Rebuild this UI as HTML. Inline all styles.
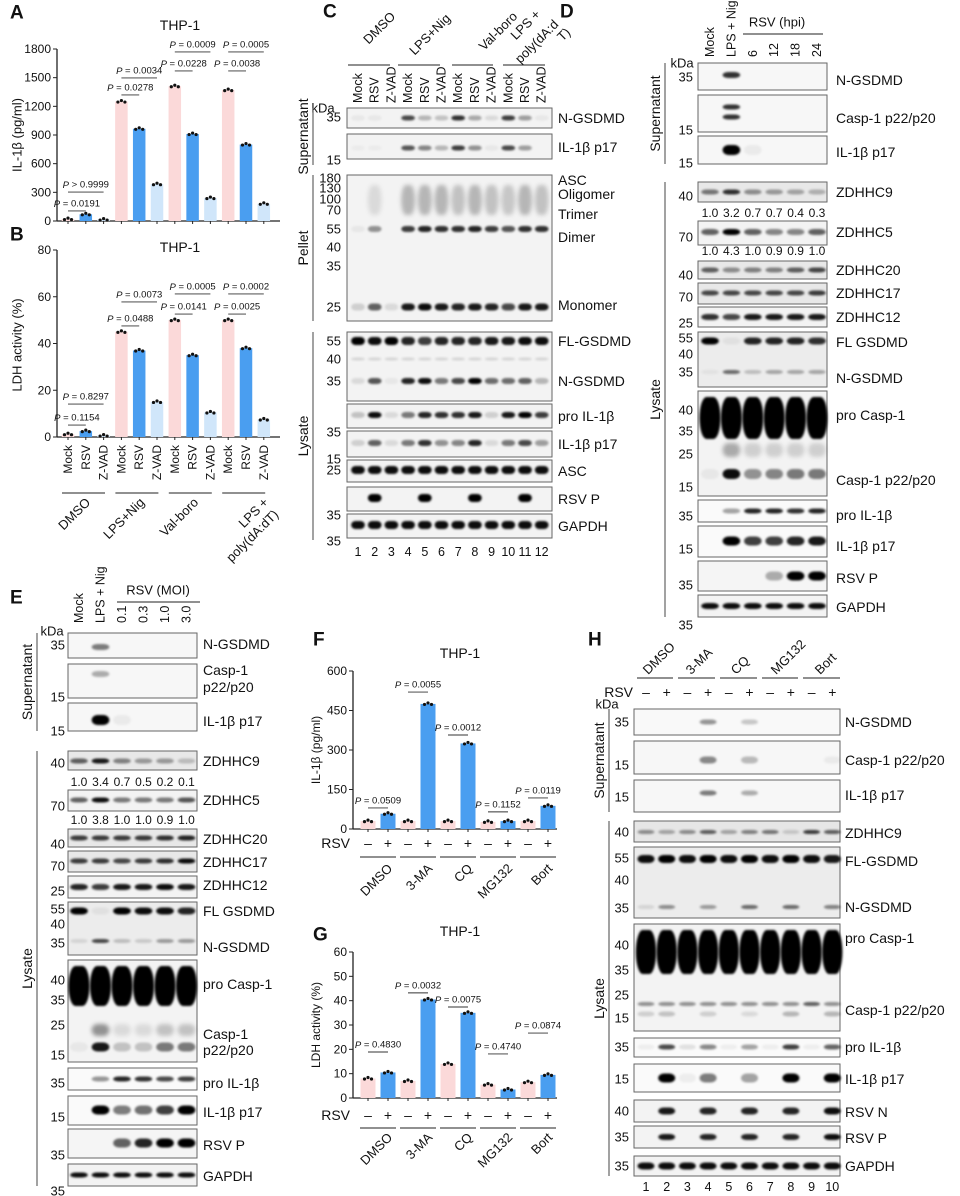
<!DOCTYPE html>
<html><head><meta charset="utf-8">
<style>
html,body{margin:0;padding:0;background:#fff;}
#fig{display:block;width:960px;height:1196px;font-family:"Liberation Sans",sans-serif;}
text{font-family:"Liberation Sans",sans-serif;fill:#111;}
</style></head>
<body>
<svg id="fig" xmlns="http://www.w3.org/2000/svg" width="960" height="1196" viewBox="0 0 960 1196">
<defs><filter id="bl" x="-50%" y="-50%" width="200%" height="200%"><feGaussianBlur stdDeviation="1.1"/></filter>
<filter id="bl2" x="-50%" y="-50%" width="200%" height="200%"><feGaussianBlur stdDeviation="2"/></filter></defs>
</svg>
<script>
// ---------- chart data ----------
const aCats = ["Mock","RSV","Z-VAD","Mock","RSV","Z-VAD","Mock","RSV","Z-VAD","Mock","RSV","Z-VAD"];
const aGroups = ["DMSO","LPS+Nig","Val-boro","LPS + poly(dA:dT)"];
const aVals = [20,70,15,1250,965,385,1410,910,240,1370,800,180];
const aTicks = [0,300,600,900,1200,1500,1800];
const aPText = ["P > 0.9999","P = 0.0191","P = 0.0034","P = 0.0278","P = 0.0009","P = 0.0228","P = 0.0005","P = 0.0038"];
const aPFrom = [0,0,3,3,6,6,9,9];
const aPTo = [2,1,5,4,8,7,11,10];
const aPLevel = [303,105,1497,1319,1769,1570,1769,1570];
const bVals = [1.2,2.5,0.6,45,37,15,50,35,10.5,50,38,7.5];
const bTicks = [0,20,40,60,80];
const bPText = ["P = 0.8297","P = 0.1154","P = 0.0073","P = 0.0488","P = 0.0005","P = 0.0141","P = 0.0002","P = 0.0025"];
const bPLevel = [14.1,5.1,57.8,47.5,61.2,52.6,61.2,52.6];
const fGroups = ["DMSO","3-MA","CQ","MG132","Bort"];
const fVals = [30,58,30,475,30,325,27,30,30,88];
const fTicks = [0,150,300,450,600];
const fPText = ["P = 0.0509","P = 0.0055","P = 0.0012","P = 0.1152","P = 0.0119"];
const fPLevel = [80,520,357,65,118];
const gVals = [8,10.5,7,40.5,14,35,5.5,3.5,6.5,9.5];
const gTicks = [0,10,20,30,40,50,60];
const gPText = ["P = 0.4830","P = 0.0032","P = 0.0075","P = 0.4740","P = 0.0874"];
const gPLevel = [18.9,43.2,37.4,18.1,26.7];

const svg = document.getElementById('fig');
const NS = 'http://www.w3.org/2000/svg';
function mk(tag, attrs, name){
  const e = document.createElementNS(NS, tag);
  for (const k in attrs) e.setAttribute(k, attrs[k]);
  
  
  svg.appendChild(e);
  return e;
}
function T(x,y,s,o){
  o=o||{};
  const e=mk('text',{x:x,y:y,'font-size':o.size||12,'text-anchor':o.anchor||'start','dominant-baseline':'central','font-weight':o.bold?'bold':'normal'},o.name||'label');
  if(o.rot) e.setAttribute('transform','rotate('+o.rot+' '+x+' '+y+')');
  if(o.fill) e.setAttribute('fill',o.fill);
  if(o.italicP && s.startsWith('P')){
    const t1=document.createElementNS(NS,'tspan'); t1.setAttribute('font-style','italic'); t1.textContent='P';
    e.appendChild(t1); e.appendChild(document.createTextNode(s.slice(1)));
  } else e.textContent=s;
  return e;
}
function L(x1,y1,x2,y2,name,w,c){ return mk('line',{x1:x1,y1:y1,x2:x2,y2:y2,stroke:c||'#222','stroke-width':w||1},name||'line'); }

// ---------- bar chart ----------
const PINK='#fbd9d9', BLUE='#4a9ef0', LBLUE='#d0e6fa';
function barChart(c){
  const y=v=>c.y0-(v/c.max)*(c.y0-c.yTop);
  const x=i=>c.x0+i*c.dx;
  L(c.ax,y(c.max),c.ax,c.y0,c.key+'-y-axis',1.3);
  L(c.ax,c.y0,c.xEnd,c.y0,c.key+'-x-axis',1.3);
  c.ticks.forEach(t=>{ L(c.ax-4,y(t),c.ax,y(t),c.key+'-y-tick'); T(c.ax-6,y(t),String(t),{size:c.fs||12,anchor:'end',name:c.key+'-y-tick-label'}); });
  c.vals.forEach((v,i)=>{
    mk('rect',{x:x(i)-c.bw/2,y:y(v),width:c.bw,height:c.y0-y(v),fill:c.colors[i]},c.key+'-bar');
    L(x(i),c.y0,x(i),c.y0+3,c.key+'-x-tick');
    [-3.5,0,3.5].forEach((d,k)=>{ mk('circle',{cx:x(i)+d,cy:y(v)+(k===1?-1:0.5),r:1.6,fill:'#111'},c.key+'-point'); });
  });
  c.pText.forEach((s,k)=>{
    const ly=y(c.pLevel[k]);
    const x1=x(c.pFrom[k]), x2=x(c.pTo[k]);
    L(x1,ly,x2,ly,c.key+'-sig-line',0.9,'#333');
    T((x1+x2)/2,ly-7,s,{size:c.pfs||9.5,anchor:'middle',italicP:true,name:c.key+'-p-value'});
  });
}
// A
barChart({key:'a',x0:68,dx:17.8,bw:12.5,ax:57,xEnd:280,y0:221,yTop:49,max:1800,ticks:aTicks,vals:aVals,
  colors:aVals.map((v,i)=>[PINK,BLUE,LBLUE][i%3]),pText:aPText,pFrom:aPFrom,pTo:aPTo,pLevel:aPLevel});
T(10,13,'A',{size:19,bold:true,name:'panel-a-letter'});
T(180,25,'THP-1',{size:14,anchor:'middle',name:'panel-a-title'});
T(17,135,'IL-1β (pg/ml)',{size:13,anchor:'middle',rot:-90,name:'a-y-axis-title'});
// B
barChart({key:'b',x0:68,dx:17.8,bw:12.5,ax:57,xEnd:280,y0:437,yTop:250,max:80,ticks:bTicks,vals:bVals,
  colors:bVals.map((v,i)=>[PINK,BLUE,LBLUE][i%3]),pText:bPText,pFrom:aPFrom,pTo:aPTo,pLevel:bPLevel});
T(10,235,'B',{size:19,bold:true,name:'panel-b-letter'});
T(180,247,'THP-1',{size:14,anchor:'middle',name:'panel-b-title'});
T(17,345,'LDH activity (%)',{size:13,anchor:'middle',rot:-90,name:'b-y-axis-title'});
aCats.forEach((s,i)=>T(68+i*17.8,445,s,{size:12,anchor:'end',rot:-90,name:'b-x-category-label'}));
for(let g=0;g<4;g++){ L(62+g*53.4,493,62+g*53.4+43,493,'b-group-underline'); }
T(88,500,'DMSO',{size:13,anchor:'end',rot:-45,name:'b-group-label'});
T(142,500,'LPS+Nig',{size:13,anchor:'end',rot:-45,name:'b-group-label'});
T(196,500,'Val-boro',{size:13,anchor:'end',rot:-45,name:'b-group-label'});
T(266,500,'LPS +',{size:13,anchor:'end',rot:-45,name:'b-group-label'});
T(276,512,'poly(dA:dT)',{size:13,anchor:'end',rot:-45,name:'b-group-label'});

// F
const fCols=fVals.map((v,i)=>i%2?BLUE:PINK);
const pairFrom=[0,2,4,6,8], pairTo=[1,3,5,7,9];
barChart({key:'f',x0:368,dx:20,bw:15,ax:353,xEnd:557,y0:829,yTop:671,max:600,ticks:fTicks,vals:fVals,colors:fCols,
  pText:fPText,pFrom:pairFrom,pTo:pairTo,pLevel:fPLevel,pfs:9.5});
T(313,640,'F',{size:19,bold:true,name:'panel-f-letter'});
T(460,653,'THP-1',{size:14,anchor:'middle',name:'panel-f-title'});
T(316,750,'IL-1β (pg/ml)',{size:12,anchor:'middle',rot:-90,name:'f-y-axis-title'});
// G
barChart({key:'g',x0:368,dx:20,bw:15,ax:353,xEnd:557,y0:1098,yTop:952,max:60,ticks:gTicks,vals:gVals,colors:fCols,
  pText:gPText,pFrom:pairFrom,pTo:pairTo,pLevel:gPLevel,pfs:9.5});
T(313,935,'G',{size:19,bold:true,name:'panel-g-letter'});
T(460,931,'THP-1',{size:14,anchor:'middle',name:'panel-g-title'});
T(316,1025,'LDH activity (%)',{size:12,anchor:'middle',rot:-90,name:'g-y-axis-title'});
[[843,857,866],[1115,1128,1135]].forEach(([ry,uy,gy],k)=>{
  T(350,ry,'RSV',{size:14,anchor:'end',name:'rsv-row-label'});
  for(let i=0;i<10;i++) T(368+i*20,ry,i%2?'+':'–',{size:14,anchor:'middle',name:'rsv-sign'});
  fGroups.forEach((g,j)=>{ const cx=378+j*40; L(cx-18,uy,cx+18,uy,'group-underline'); T(cx+12,gy,g,{size:13,anchor:'end',rot:-45,name:'group-label'}); });
});

// ---------- blots ----------
function blot(key,x1,y1,x2,y2,x0,dx,bands,bg){
  mk('rect',{x:x1,y:y1,width:x2-x1,height:y2-y1,fill:bg||'#f3f3f3',stroke:'#666','stroke-width':1},key+'-blot-frame');
  bands.forEach(b=>{
    b.v.forEach((v,i)=>{
      if(v<=0.02) return;
      const w=(b.w||0.82)*dx;
      mk('rect',{x:x0+i*dx-w/2,y:b.y-b.h/2,width:w,height:b.h,rx:w/3,ry:b.h/2,fill:'#000','fill-opacity':Math.min(1,v),filter:b.soft?'url(#bl2)':'url(#bl)'},key+'-band');
    });
  });
}
function labels(list,x,anchor,size,name){ list.forEach(([s,y])=>T(x,y,s,{size:size,anchor:anchor,name:name})); }
function bracket(x,yA,yB,lbl,name){ L(x,yA,x,yB,name+'-bracket',1,'#444'); T(x-10,(yA+yB)/2,lbl,{size:14,anchor:'middle',rot:-90,name:name+'-label'}); }
const F=n=>Array(n).fill(0.95);

// C
T(323,12,'C',{size:19,bold:true,name:'panel-c-letter'});
T(393,14,'DMSO',{size:13,anchor:'end',rot:-45,name:'c-group-label'});
T(448,16,'LPS+Nig',{size:13,anchor:'end',rot:-45,name:'c-group-label'});
T(515,14,'Val-boro',{size:13,anchor:'end',rot:-45,name:'c-group-label'});
T(538,12,'LPS +',{size:13,anchor:'end',rot:-45,name:'c-group-label'});
T(556,22,'poly(dA:d',{size:13,anchor:'end',rot:-45,name:'c-group-label'});
T(568,30,'T)',{size:13,anchor:'end',rot:-45,name:'c-group-label'});
[[348,390],[398,440],[452,493],[503,545]].forEach(([a,b])=>L(a,65,b,65,'c-group-underline'));
const cx0=358, cdx=16.7;
aCats.forEach((s,i)=>T(cx0+i*cdx,103,s,{size:12.5,anchor:'start',rot:-90,name:'c-lane-label'}));
T(323,108,'kDa',{size:13,anchor:'middle',name:'c-kda'});
blot('c',347,108,552,128,cx0,cdx,[{y:118,h:5,v:[0.05,0.05,0.02,0.7,0.25,0.2,0.8,0.3,0.1,0.75,0.35,0.05]}]);
blot('c',347,134,552,159,cx0,cdx,[{y:148,h:5,v:[0.03,0.03,0.02,0.65,0.45,0.25,0.75,0.4,0.05,0.7,0.35,0.02]}]);
blot('c',347,175,552,321,cx0,cdx,[
 {y:200,h:30,soft:true,v:[0,0.1,0,0.25,0.25,0.25,0.2,0.25,0.2,0.18,0.25,0.2]},
 {y:229,h:6,v:[0.05,0.4,0.02,0.75,0.85,0.8,0.8,0.85,0.75,0.65,0.8,0.8]},
 {y:307,h:7,v:[0.15,0.6,0.1,0.9,0.95,0.9,0.85,0.9,0.85,0.7,0.9,0.9]}]);
blot('c',347,332,552,401,cx0,cdx,[
 {y:341,h:8,v:[1,0.95,1,0.85,0.75,0.85,0.85,0.85,0.9,0.9,0.95,0.95]},
 {y:359,h:3,v:F(12).map(v=>0.12)},
 {y:381,h:6,v:[0.1,0.65,0.05,0.85,0.95,0.5,0.7,1,0.55,0.55,0.6,0.25]}]);
blot('c',347,404,552,428,cx0,cdx,[{y:415,h:6,v:[0.2,0.95,0.1,0.5,0.85,0.8,0.8,0.9,0.15,0.9,1,0.75]}]);
blot('c',347,431,552,457,cx0,cdx,[{y:443,h:6,v:[0.15,0.6,0.1,0.5,0.8,0.4,0.45,0.85,0.1,0.5,0.7,0.35]}]);
blot('c',347,460,552,482,cx0,cdx,[{y:470,h:8,v:F(12)}]);
blot('c',347,487,552,511,cx0,cdx,[{y:498,h:8,v:[0,1,0,0,1,0,0,1,0,0,1,0]}]);
blot('c',347,514,552,538,cx0,cdx,[{y:525,h:8,v:F(12)}]);
for(let i=0;i<12;i++) T(cx0+i*cdx,552,String(i+1),{size:12.5,anchor:'middle',name:'c-lane-number'});
labels([['35',117],['15',160],['180',178],['130',188],['100',199],['70',210],['55',229],['40',247],['35',266],['25',307],['55',341],['40',359],['35',381],['35',432],['15',459],['25',470],['35',515],['35',541]],341,'end',13,'c-kda-marker');
labels([['N-GSDMD',118],['IL-1β p17',147],['ASC',180],['Oligomer',194],['Trimer',214],['Dimer',237],['Monomer',305],['FL-GSDMD',341],['N-GSDMD',381],['pro IL-1β',416],['IL-1β p17',444],['ASC',471],['RSV P',499],['GAPDH',526]],558,'start',14,'c-protein-label');
bracket(313,108,165,'Supernatant','c-supernatant');
bracket(313,175,321,'Pellet','c-pellet');
bracket(313,332,540,'Lysate','c-lysate');

// D
T(560,12,'D',{size:19,bold:true,name:'panel-d-letter'});
const dx0=710, ddx=21.4;
['Mock','LPS + Nig','6','12','18','24'].forEach((s,i)=>T(dx0+i*ddx,57,s,{size:12.5,anchor:'start',rot:-90,name:'d-lane-label'}));
T(777,22,'RSV (hpi)',{size:13,anchor:'middle',name:'d-rsv-hpi-header'});
L(743,34,823,34,'d-header-underline');
T(682,63,'kDa',{size:13,anchor:'middle',name:'d-kda'});
blot('d',698,63,827,90,dx0,ddx,[{y:75,h:6,v:[0,0.8,0,0,0,0]}],'#f7f7f7');
blot('d',698,95,827,132,dx0,ddx,[{y:107,h:5,v:[0,0.8,0,0,0,0]},{y:117,h:5,v:[0,0.8,0,0,0,0]}],'#f7f7f7');
blot('d',698,136,827,164,dx0,ddx,[{y:150,h:10,v:[0,1,0.05,0,0,0]}],'#f7f7f7');
blot('d',698,182,827,202,dx0,ddx,[{y:192,h:5,v:[0.5,0.8,0.4,0.35,0.3,0.25]}],'#e8e8e8');
blot('d',698,221,827,245,dx0,ddx,[{y:232,h:6,v:[0.6,1,0.6,0.45,0.45,0.6]}]);
blot('d',698,261,827,279,dx0,ddx,[{y:270,h:5,v:[0.6,0.4,0.45,0.45,0.6,0.7]}],'#e8e8e8');
blot('d',698,283,827,304,dx0,ddx,[{y:293,h:5,v:[0.7,0.7,0.7,0.7,0.7,0.75]}],'#e8e8e8');
blot('d',698,307,827,327,dx0,ddx,[{y:317,h:6,v:[0.8,0.7,0.9,0.9,0.9,0.9]}]);
blot('d',698,332,827,387,dx0,ddx,[{y:341,h:7,v:[1,0.05,0.85,0.85,0.85,0.8]},{y:372,h:4,v:[0.05,0.55,0.2,0.3,0.3,0.3]}],'#ececec');
blot('d',698,391,827,496,dx0,ddx,[{y:418,h:42,w:0.98,v:F(6).map(v=>1)},{y:450,h:14,soft:true,v:[0,0.3,0.15,0.15,0.15,0.15]},{y:474,h:10,v:[0.05,0.95,0.4,0.45,0.5,0.5]}]);
blot('d',698,500,827,522,dx0,ddx,[{y:511,h:5,v:[0,0.35,0.85,0.85,0.8,0.85]}],'#fafafa');
blot('d',698,526,827,557,dx0,ddx,[{y:541,h:9,v:[0,1,0.75,0.75,0.85,0.9]}],'#fafafa');
blot('d',698,561,827,591,dx0,ddx,[{y:576,h:9,v:[0,0,0,0.3,1,1]}],'#f5f5f5');
blot('d',698,595,827,617,dx0,ddx,[{y:606,h:6,v:F(6)}]);
['1.0','3.2','0.7','0.7','0.4','0.3'].forEach((s,i)=>T(dx0+i*ddx,213,s,{size:12,anchor:'middle',name:'d-zdhhc9-ratio'}));
['1.0','4.3','1.0','0.9','0.9','1.0'].forEach((s,i)=>T(dx0+i*ddx,251,s,{size:12,anchor:'middle',name:'d-zdhhc5-ratio'}));
labels([['35',77],['15',130],['15',163],['40',196],['70',237],['40',275],['70',297],['25',323],['55',338],['40',354],['35',372],['40',410],['35',431],['25',454],['15',487],['35',516],['15',549],['35',585],['35',625]],693,'end',13,'d-kda-marker');
labels([['N-GSDMD',80],['Casp-1 p22/p20',118],['IL-1β p17',152],['ZDHHC9',192],['ZDHHC5',232],['ZDHHC20',270],['ZDHHC17',293],['ZDHHC12',317],['FL GSDMD',342],['N-GSDMD',378],['pro Casp-1',415],['Casp-1 p22/p20',480],['pro IL-1β',515],['IL-1β p17',546],['RSV P',578],['GAPDH',607]],836,'start',14,'d-protein-label');
bracket(665,63,164,'Supernatant','d-supernatant');
bracket(665,182,617,'Lysate','d-lysate');

// E
T(10,598,'E',{size:19,bold:true,name:'panel-e-letter'});
const ex0=79, edx=21.5;
['Mock','LPS + Nig','0.1','0.3','1.0','3.0'].forEach((s,i)=>T(ex0+i*edx,623,s,{size:12.5,anchor:'start',rot:-90,name:'e-lane-label'}));
T(158,590,'RSV (MOI)',{size:13,anchor:'middle',name:'e-rsv-moi-header'});
L(117,602,200,602,'e-header-underline');
T(52,631,'kDa',{size:13,anchor:'middle',name:'e-kda'});
blot('e',68,633,197,658,ex0,edx,[{y:647,h:6,v:[0,0.5,0,0,0,0]}],'#f7f7f7');
blot('e',68,664,197,698,ex0,edx,[{y:674,h:6,v:[0,0.3,0,0,0,0]}],'#f7f7f7');
blot('e',68,703,197,731,ex0,edx,[{y:720,h:10,v:[0,1,0.05,0,0,0]}],'#f7f7f7');
blot('e',68,751,197,770,ex0,edx,[{y:761,h:5,v:[0.6,0.9,0.45,0.35,0.35,0.2]}],'#e8e8e8');
blot('e',68,790,197,811,ex0,edx,[{y:800,h:5,v:[0.6,0.95,0.5,0.5,0.5,0.65]}]);
blot('e',68,829,197,847,ex0,edx,[{y:838,h:5,v:[0.75,0.75,0.75,0.75,0.8,0.85]}],'#e8e8e8');
blot('e',68,851,197,872,ex0,edx,[{y:861,h:5,v:[0.75,0.75,0.7,0.75,0.8,0.95]}],'#e8e8e8');
blot('e',68,876,197,898,ex0,edx,[{y:887,h:6,v:[0.85,0.75,0.9,0.9,0.95,0.9]}]);
blot('e',68,902,197,955,ex0,edx,[{y:911,h:7,v:[1,0.05,1,0.95,0.95,0.85]},{y:941,h:4,v:[0.1,0.7,0.2,0.15,0.35,0.35]}],'#ececec');
blot('e',68,960,197,1062,ex0,edx,[{y:986,h:40,w:0.98,v:F(6).map(v=>1)},{y:1030,h:12,soft:true,v:[0,0.4,0.1,0.1,0.2,0.2]},{y:1047,h:9,v:[0.05,0.9,0.2,0.2,0.5,0.5]}]);
blot('e',68,1068,197,1090,ex0,edx,[{y:1079,h:5,v:[0,0.4,0.85,0.8,0.7,0.75]}],'#fafafa');
blot('e',68,1096,197,1125,ex0,edx,[{y:1110,h:9,v:[0,1,0.5,0.55,0.75,1]}],'#fafafa');
blot('e',68,1129,197,1158,ex0,edx,[{y:1143,h:9,v:[0,0,0.6,0.85,1,1]}],'#f5f5f5');
blot('e',68,1164,197,1186,ex0,edx,[{y:1175,h:5,v:F(6)}]);
['1.0','3.4','0.7','0.5','0.2','0.1'].forEach((s,i)=>T(ex0+i*edx,782,s,{size:12,anchor:'middle',name:'e-zdhhc9-ratio'}));
['1.0','3.8','1.0','1.0','0.9','1.0'].forEach((s,i)=>T(ex0+i*edx,820,s,{size:12,anchor:'middle',name:'e-zdhhc5-ratio'}));
labels([['35',645],['15',697],['15',731],['40',763],['70',806],['40',844],['70',866],['25',891],['55',909],['40',924],['35',943],['40',980],['35',1000],['25',1025],['15',1055],['35',1083],['15',1117],['35',1155],['35',1191]],65,'end',13,'e-kda-marker');
labels([['N-GSDMD',644],['Casp-1',670],['p22/p20',687],['IL-1β p17',721],['ZDHHC9',761],['ZDHHC5',800],['ZDHHC20',839],['ZDHHC17',862],['ZDHHC12',885],['FL GSDMD',911],['N-GSDMD',947],['pro Casp-1',984],['Casp-1',1034],['p22/p20',1050],['pro IL-1β',1083],['IL-1β p17',1112],['RSV P',1145],['GAPDH',1176]],203,'start',14,'e-protein-label');
bracket(37,633,731,'Supernatant','e-supernatant');
bracket(37,751,1186,'Lysate','e-lysate');

// H
T(588,640,'H',{size:19,bold:true,name:'panel-h-letter'});
const hx0=646, hdx=20.7;
[['DMSO',645],['3-MA',688],['CQ',733],['MG132',773],['Bort',817]].forEach(([s,x])=>T(x,672,s,{size:13,anchor:'start',rot:-45,name:'h-group-label'}));
[[637,673],[678,715],[720,757],[762,798],[803,840]].forEach(([a,b])=>L(a,678,b,678,'h-group-underline'));
T(633,692,'RSV',{size:14,anchor:'end',name:'h-rsv-row-label'});
for(let i=0;i<10;i++) T(hx0+i*hdx,692,i%2?'+':'–',{size:14,anchor:'middle',name:'h-rsv-sign'});
T(607,704,'kDa',{size:13,anchor:'middle',name:'h-kda'});
blot('h',634,709,840,735,hx0,hdx,[{y:722,h:5,v:[0,0,0,0.4,0,0.2,0,0,0,0]}],'#f9f9f9');
blot('h',634,741,840,774,hx0,hdx,[{y:760,h:7,v:[0,0,0,0.45,0,0.25,0,0,0,0.05]}],'#f7f7f7');
blot('h',634,780,840,812,hx0,hdx,[{y:793,h:5,v:[0,0,0,0.5,0,0.3,0,0,0,0]}],'#f7f7f7');
blot('h',634,821,840,842,hx0,hdx,[{y:832,h:4,v:[0.4,0.3,0.4,0.6,0.3,0.45,0.5,0.15,0.75,0.6]}],'#e6e6e6');
blot('h',634,847,840,918,hx0,hdx,[{y:859,h:8,v:[0.95,1,0.95,1,0.95,1,0.95,1,0.95,0.9]},{y:907,h:4,v:[0.1,0.4,0,0.35,0,0.55,0,0.55,0,0.45]}],'#ececec');
blot('h',634,924,840,1031,hx0,hdx,[{y:952,h:44,w:0.98,v:Array(10).fill(1)},{y:1004,h:4,v:[0.4,0.4,0.4,0.4,0.4,0.4,0.4,0.4,0.6,0.4]},{y:1014,h:5,v:[0.15,0.2,0,0.15,0,0.1,0,0.25,0,0.25]}]);
blot('h',634,1038,840,1057,hx0,hdx,[{y:1047,h:5,v:[0.05,0.7,0.1,0.45,0.05,0.35,0.05,0.75,0.05,0.6]}],'#fafafa');
blot('h',634,1064,840,1092,hx0,hdx,[{y:1078,h:9,v:[0,1,0.05,0.5,0,0.35,0,1,0,1]}],'#fafafa');
blot('h',634,1100,840,1122,hx0,hdx,[{y:1111,h:7,v:[0,0.9,0,0.85,0,0.85,0,0.85,0,0.95]}]);
blot('h',634,1126,840,1148,hx0,hdx,[{y:1137,h:6,v:[0,0.9,0,0.85,0,0.85,0,0.85,0,0.95]}]);
blot('h',634,1156,840,1176,hx0,hdx,[{y:1166,h:7,v:Array(10).fill(0.95)}]);
for(let i=0;i<10;i++) T(hx0+i*hdx,1187,String(i+1),{size:12.5,anchor:'middle',name:'h-lane-number'});
labels([['35',722],['15',765],['15',797],['40',832],['55',858],['40',880],['35',908],['40',945],['35',970],['25',995],['15',1018],['35',1047],['15',1079],['40',1111],['35',1137],['35',1166]],629,'end',13,'h-kda-marker');
labels([['N-GSDMD',722],['Casp-1 p22/p20',760],['IL-1β p17',795],['ZDHHC9',833],['FL-GSDMD',861],['N-GSDMD',907],['pro Casp-1',938],['Casp-1 p22/p20',1010],['pro IL-1β',1047],['IL-1β p17',1079],['RSV N',1112],['RSV P',1138],['GAPDH',1166]],845,'start',14,'h-protein-label');
bracket(609,709,812,'Supernatant','h-supernatant');
bracket(609,821,1176,'Lysate','h-lysate');
</script>
</body></html>
